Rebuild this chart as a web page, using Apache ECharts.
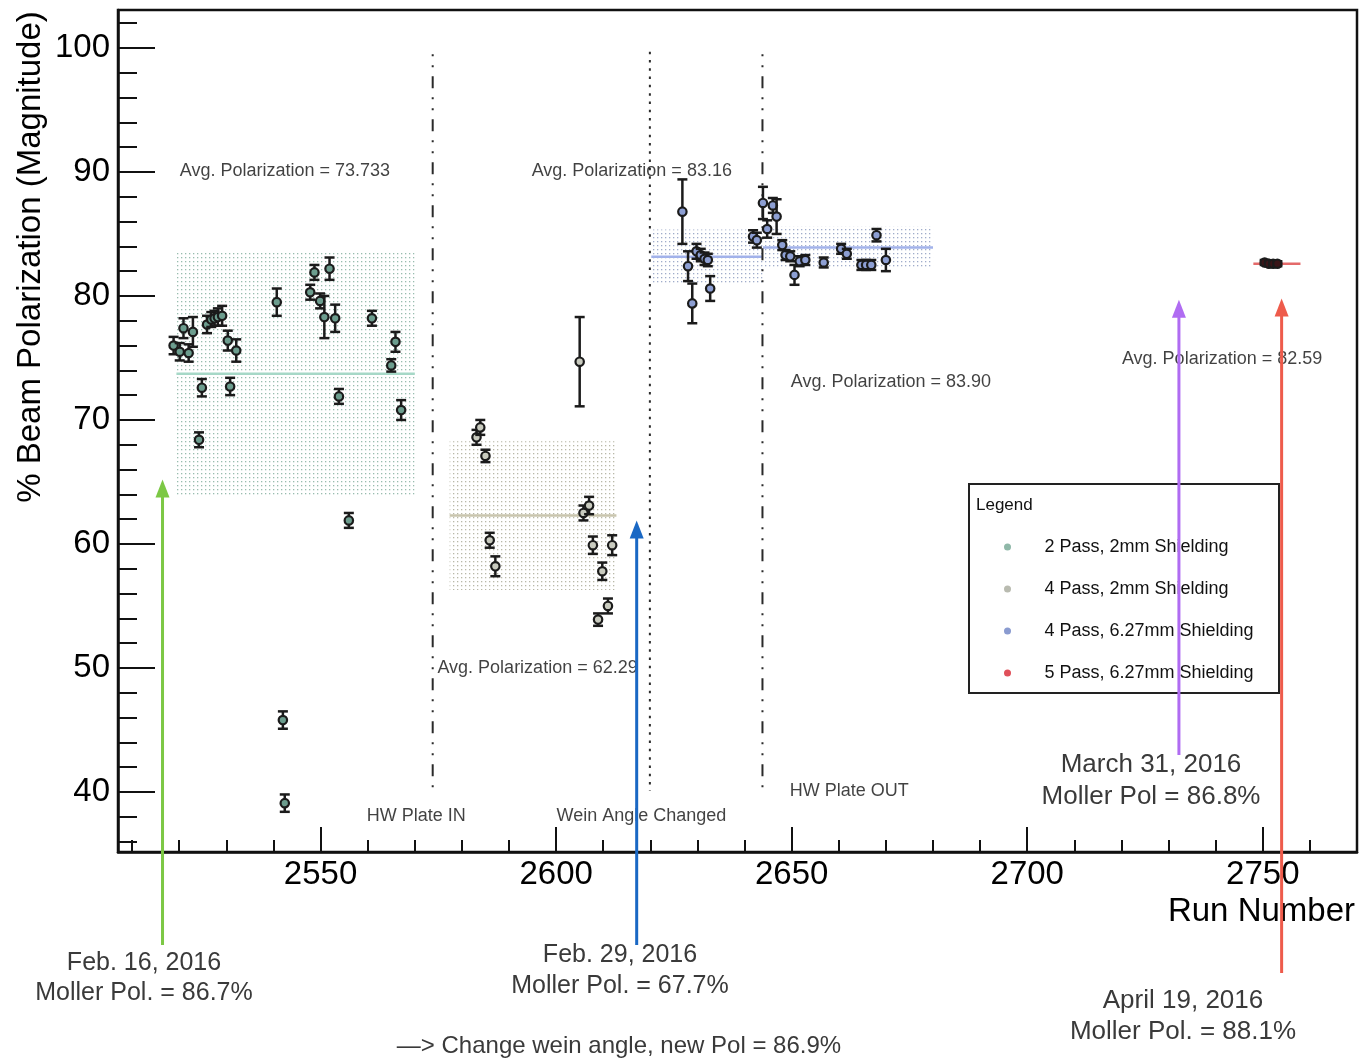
<!DOCTYPE html>
<html>
<head>
<meta charset="utf-8">
<title>Beam Polarization vs Run Number</title>
<script src="https://cdn.jsdelivr.net/npm/echarts@6/dist/echarts.min.js"></script>
<style>
html, body { margin: 0; padding: 0; background: #fff; }
#chart { width: 1360px; height: 1058px; }
</style>
</head>
<body>
<div id="chart"></div>
<script>
// ---- Measurements: run number, polarization (%), statistical error ----
const pass2Runs = [2518.8, 2520.1, 2520.9, 2522.0, 2522.9, 2524.2, 2524.8, 2525.9, 2526.8, 2527.5,
                   2528.2, 2529.1, 2530.3, 2530.8, 2532.1, 2540.7, 2542.0, 2542.4, 2547.8, 2548.7,
                   2549.9, 2550.8, 2551.9, 2553.1, 2553.9, 2556.0, 2560.9, 2565.0, 2565.9, 2567.1];
const pass2Pol  = [76.0, 75.5, 77.4, 75.4, 77.1, 68.4, 72.6, 77.7, 78.1, 78.2,
                   78.3, 78.4, 76.4, 72.7, 75.6, 79.5, 45.8, 39.1, 80.3, 81.9,
                   79.6, 78.3, 82.2, 78.2, 71.9, 61.9, 78.2, 74.4, 76.3, 70.8];
const pass2Err  = [0.7, 0.7, 0.8, 0.7, 1.2, 0.6, 0.7, 0.7, 0.6, 0.6,
                   0.7, 0.8, 0.8, 0.7, 0.9, 1.1, 0.7, 0.7, 0.6, 0.6,
                   0.6, 1.7, 0.9, 1.1, 0.6, 0.6, 0.6, 0.5, 0.8, 0.8];

const pass4Runs = [2583.1, 2583.9, 2585.0, 2585.9, 2587.1, 2605.0, 2605.8, 2607.0, 2607.8, 2608.9,
                   2609.8, 2611.0, 2611.9];
const pass4Pol  = [68.6, 69.4, 67.1, 60.3, 58.2, 74.7, 62.5, 63.1, 59.9, 53.9,
                   57.8, 55.0, 59.9];
const pass4Err  = [0.6, 0.6, 0.5, 0.6, 0.8, 3.6, 0.6, 0.7, 0.7, 0.5,
                   0.7, 0.6, 0.8];

const pass4ThickRuns = [2626.8, 2628.0, 2628.9, 2629.8, 2630.7, 2631.5, 2632.2, 2632.7, 2641.8, 2642.6,
                        2643.9, 2644.8, 2646.0, 2646.8, 2648.0, 2648.7, 2649.7, 2650.6, 2651.7, 2652.9,
                        2656.8, 2660.5, 2661.7, 2664.8, 2665.8, 2666.9, 2668.0, 2670.0];
const pass4ThickPol  = [86.8, 82.4, 79.4, 83.6, 83.3, 83.0, 82.9, 80.6, 84.8, 84.5,
                        87.5, 85.4, 87.3, 86.4, 84.1, 83.3, 83.2, 81.7, 82.8, 82.9,
                        82.7, 83.8, 83.4, 82.5, 82.5, 82.5, 84.9, 82.9];
const pass4ThickErr  = [2.6, 1.2, 1.6, 0.6, 0.5, 0.5, 0.5, 1.0, 0.5, 0.6,
                        1.3, 0.7, 0.6, 1.4, 0.4, 0.4, 0.4, 0.8, 0.4, 0.4,
                        0.4, 0.4, 0.4, 0.4, 0.4, 0.4, 0.5, 0.9];

const pass5Runs = [2750.4, 2751.3, 2752.2, 2753.1];
const pass5Pol  = [82.7, 82.6, 82.6, 82.6];
const pass5Err  = [0.2, 0.2, 0.2, 0.2];

// ---- Period averages: value, run range, one-sigma spread ----
const avgValue  = [73.733, 62.29, 83.16, 83.90, 82.59];
const avgFrom   = [2519.4, 2577.4, 2620.2, 2643.9, 2748.0];
const avgTo     = [2570.0, 2612.8, 2643.9, 2680.0, 2758.0];
const avgSpread = [9.85, 6.0, 2.2, 1.7, 0];
const avgGroup  = [0, 1, 2, 2, 3];
const avgLabel  = ['Avg. Polarization = 73.733', 'Avg. Polarization = 62.29', 'Avg. Polarization = 83.16',
                   'Avg. Polarization = 83.90', 'Avg. Polarization = 82.59'];
const avgLabelRun = [2520.1, 2574.8, 2594.8, 2649.8, 2720.1];
const avgLabelPol = [90.08, 50.0, 90.08, 73.06, 74.9];

// ---- Configuration changes ----
const changeRuns   = [2573.8, 2619.9, 2643.8];
const changeTop    = [99.5, 99.7, 99.5];
const changeBottom = [40.1, 40.1, 39.8];
const changeStyle  = ['dashdot', 'dotted', 'dashdot'];
const changeLabel  = ['HW Plate IN', 'Wein Angle Changed', 'HW Plate OUT'];
const changeLabelRun = [2559.8, 2600.1, 2649.6];
const changeLabelPol = [38.06, 38.06, 40.08];

// ---- Moller measurements ----
const mollerRun  = [2516.45, 2617.1, 2732.2, 2754.0];
const mollerTip  = [65.2, 61.9, 79.7, 79.8];
const mollerTail = [27.66, 27.66, 42.98, 25.4];
const mollerDate = ['Feb. 16, 2016', 'Feb. 29, 2016', 'March 31, 2016', 'April 19, 2016'];
const mollerPol  = ['Moller Pol. = 86.7%', 'Moller Pol. = 67.7%', 'Moller Pol = 86.8%', 'Moller Pol. = 88.1%'];
const mollerNote = '\u2014> Change wein angle, new Pol = 86.9%';

// ---- Axis ticks ----
const xMajor = [2550, 2600, 2650, 2700, 2750];
const xMinor = [2510, 2520, 2530, 2540, 2560, 2570, 2580, 2590, 2610, 2620, 2630, 2640,
                2660, 2670, 2680, 2690, 2710, 2720, 2730, 2740, 2760];
const yMajor = [40, 50, 60, 70, 80, 90, 100];
const yMinor = [36, 38, 42, 44, 46, 48, 52, 54, 56, 58, 62, 64, 66, 68, 72, 74, 76, 78,
                82, 84, 86, 88, 92, 94, 96, 98, 102];

const groupNames = ['2 Pass, 2mm Shielding', '4 Pass, 2mm Shielding',
                    '4 Pass, 6.27mm Shielding', '5 Pass, 6.27mm Shielding'];
const groupRuns = [pass2Runs, pass4Runs, pass4ThickRuns, pass5Runs];
const groupPol  = [pass2Pol, pass4Pol, pass4ThickPol, pass5Pol];
const groupErr  = [pass2Err, pass4Err, pass4ThickErr, pass5Err];

// colours: legend key, marker fill, average line, band dots
const keyColor  = ['#8fb8a8', '#b9bbb0', '#8a9bd0', '#e0505a'];
const fillColor = ['#6c9d8e', '#c9cbbf', '#8d9fd3', '#3a1518'];
const lineColor = ['#a6d8c7', '#c9c5ae', '#a2b2ea', '#e46a6a'];
const dotColor  = ['#98bcae', '#b8b8a8', '#a0acca', '#e46a6a'];

const FONT = '"Liberation Sans", Arial, Helvetica, sans-serif';

function dotPattern(color) {
  const c = document.createElement('canvas');
  c.width = 4; c.height = 4;
  const g = c.getContext('2d');
  g.fillStyle = color;
  g.fillRect(1, 1, 1.3, 1.3);
  return { image: c, repeat: 'repeat' };
}

function errorBarItem(fill) {
  return function (params, api) {
    const x = api.value(0), y = api.value(1), e = api.value(2);
    const c = api.coord([x, y]);
    const hi = api.coord([x, y + e]);
    const lo = api.coord([x, y - e]);
    const cap = 5;
    const stroke = '#1b1b1b';
    return {
      type: 'group',
      children: [
        { type: 'line', shape: { x1: c[0], y1: hi[1], x2: c[0], y2: lo[1] }, style: { stroke: stroke, lineWidth: 2.5 } },
        { type: 'line', shape: { x1: c[0] - cap, y1: hi[1], x2: c[0] + cap, y2: hi[1] }, style: { stroke: stroke, lineWidth: 2.5 } },
        { type: 'line', shape: { x1: c[0] - cap, y1: lo[1], x2: c[0] + cap, y2: lo[1] }, style: { stroke: stroke, lineWidth: 2.5 } },
        { type: 'circle', shape: { cx: c[0], cy: c[1], r: 4.2 }, style: { fill: fill, stroke: stroke, lineWidth: 2.2 } }
      ]
    };
  };
}

const series = [];

// averages with one-sigma bands
avgValue.forEach(function (v, i) {
  const g = avgGroup[i];
  const s = {
    type: 'line',
    name: 'avg' + i,
    data: [[avgFrom[i], v], [avgTo[i], v]],
    symbol: 'none',
    silent: true,
    z: 1,
    lineStyle: { color: lineColor[g], width: 2.5 }
  };
  if (avgSpread[i] > 0) {
    s.markArea = {
      silent: true,
      itemStyle: { color: dotPattern(dotColor[g]) },
      data: [[{ coord: [avgFrom[i], v - avgSpread[i]] }, { coord: [avgTo[i], v + avgSpread[i]] }]]
    };
  }
  series.push(s);
});

// configuration-change markers
changeRuns.forEach(function (r, i) {
  series.push({
    type: 'line',
    name: 'change' + i,
    data: [[r, changeTop[i]], [r, changeBottom[i]]],
    symbol: 'none',
    silent: true,
    z: 2,
    lineStyle: {
      color: '#2a2a2a',
      width: 2,
      type: changeStyle[i] === 'dotted' ? [2.5, 5.8] : [2, 9, 2, 9, 12, 9]
    }
  });
});

// measurement groups
groupNames.forEach(function (name, g) {
  series.push({
    type: 'custom',
    name: name,
    renderItem: errorBarItem(fillColor[g]),
    encode: { x: 0, y: 1 },
    itemStyle: { color: keyColor[g] },
    z: 5,
    data: groupRuns[g].map(function (r, k) { return [r, groupPol[g][k], groupErr[g][k]]; })
  });
});

// text notes inside the frame
const noteData = avgLabel.map(function (t, i) { return { name: t, value: [avgLabelRun[i], avgLabelPol[i]] }; })
  .concat(changeLabel.map(function (t, i) { return { name: t, value: [changeLabelRun[i], changeLabelPol[i]] }; }));
series.push({
  type: 'scatter',
  name: 'notes',
  symbolSize: 0,
  silent: true,
  z: 6,
  data: noteData,
  label: {
    show: true,
    position: 'right',
    distance: 0,
    formatter: '{b}',
    color: '#111',
    fontFamily: FONT,
    fontSize: 18
  }
});

const chart = echarts.init(document.getElementById('chart'), null, { renderer: 'canvas' });

chart.setOption({
  animation: false,
  backgroundColor: '#fff',
  grid: {
    left: 118, right: 3, top: 10, bottom: 206,
    show: true, borderColor: '#111', borderWidth: 2.5, backgroundColor: 'transparent'
  },
  xAxis: [
    {
      type: 'value', min: 2507, max: 2770,
      axisLine: { show: true, lineStyle: { color: '#111', width: 2.5 } },
      axisTick: { show: true, inside: true, length: 25, customValues: xMajor, lineStyle: { color: '#111', width: 2 } },
      axisLabel: { show: true, customValues: xMajor, margin: 6, color: '#000', fontFamily: FONT, fontSize: 33,
                   formatter: function (v) { return String(v); } },
      splitLine: { show: false }
    },
    {
      type: 'value', min: 2507, max: 2770, position: 'bottom',
      axisLine: { show: false },
      axisTick: { show: true, inside: true, length: 12, customValues: xMinor, lineStyle: { color: '#111', width: 2 } },
      axisLabel: { show: false },
      splitLine: { show: false }
    }
  ],
  yAxis: [
    {
      type: 'value', min: 35.16, max: 103.06,
      axisLine: { show: true, lineStyle: { color: '#111', width: 2.5 } },
      axisTick: { show: true, inside: true, length: 37, customValues: yMajor, lineStyle: { color: '#111', width: 2 } },
      axisLabel: { show: true, customValues: yMajor, margin: 8, color: '#000', fontFamily: FONT, fontSize: 33,
                   formatter: function (v) { return String(v); } },
      splitLine: { show: false }
    },
    {
      type: 'value', min: 35.16, max: 103.06, position: 'left',
      axisLine: { show: false },
      axisTick: { show: true, inside: true, length: 19, customValues: yMinor, lineStyle: { color: '#111', width: 2 } },
      axisLabel: { show: false },
      splitLine: { show: false }
    }
  ],
  legend: {
    data: groupNames,
    orient: 'vertical',
    left: 999,
    top: 532,
    itemWidth: 64,
    itemHeight: 7,
    itemGap: 22,
    icon: 'circle',
    selectedMode: false,
    z: 10,
    textStyle: { color: '#111', fontFamily: FONT, fontSize: 18, lineHeight: 20 }
  },
  series: series
});

// frame-relative decorations: titles, legend box, Moller arrows
function px(run, pol) { return chart.convertToPixel({ gridIndex: 0 }, [run, pol]); }

const ARROW_COLORS = ['#7cc845', '#1a68c4', '#b06cf2', '#ee5b4b'];
const graphics = [];

graphics.push({
  type: 'text', x: 31, y: 257, rotation: Math.PI / 2, z: 10,
  style: { text: '% Beam Polarization (Magnitude)', x: 0, y: 0, align: 'center', verticalAlign: 'middle',
           font: '33px ' + FONT, fill: '#000' }
});
graphics.push({
  type: 'text', x: 1355, y: 912, z: 10,
  style: { text: 'Run Number', align: 'right', verticalAlign: 'middle', font: '33px ' + FONT, fill: '#000' }
});
graphics.push({
  type: 'rect', z: 3,
  shape: { x: 969, y: 484, width: 310, height: 209 },
  style: { fill: '#fff', stroke: '#222', lineWidth: 2 }
});
graphics.push({
  type: 'text', x: 976, y: 505, z: 11,
  style: { text: 'Legend', align: 'left', verticalAlign: 'middle', font: '17px ' + FONT, fill: '#111' }
});

mollerRun.forEach(function (r, i) {
  const tip = px(r, mollerTip[i]);
  const tail = px(r, mollerTail[i]);
  const head = 18, half = 7;
  graphics.push({
    type: 'line', z: 20,
    shape: { x1: tip[0], y1: tip[1] + head - 2, x2: tail[0], y2: tail[1] },
    style: { stroke: ARROW_COLORS[i], lineWidth: 3 }
  });
  graphics.push({
    type: 'polygon', z: 20,
    shape: { points: [[tip[0], tip[1]], [tip[0] - half, tip[1] + head], [tip[0] + half, tip[1] + head]] },
    style: { fill: ARROW_COLORS[i] }
  });
});

const noteFont = '25px ' + FONT;
const notePos = [[144, 963, 993], [620, 955, 986], [1151, 765, 797], [1183, 1001, 1032]];
notePos.forEach(function (p, i) {
  const f = i >= 2 ? '26px ' + FONT : noteFont;
  graphics.push({ type: 'text', x: p[0], y: p[1], z: 21,
    style: { text: mollerDate[i], align: 'center', verticalAlign: 'middle', font: f, fill: '#3a3a3a' } });
  graphics.push({ type: 'text', x: p[0], y: p[2], z: 21,
    style: { text: mollerPol[i], align: 'center', verticalAlign: 'middle', font: f, fill: '#3a3a3a' } });
});
graphics.push({ type: 'text', x: 619, y: 1046, z: 21,
  style: { text: mollerNote, align: 'center', verticalAlign: 'middle', font: '24px ' + FONT, fill: '#3a3a3a' } });

chart.setOption({ graphic: graphics });
</script>
</body>
</html>
